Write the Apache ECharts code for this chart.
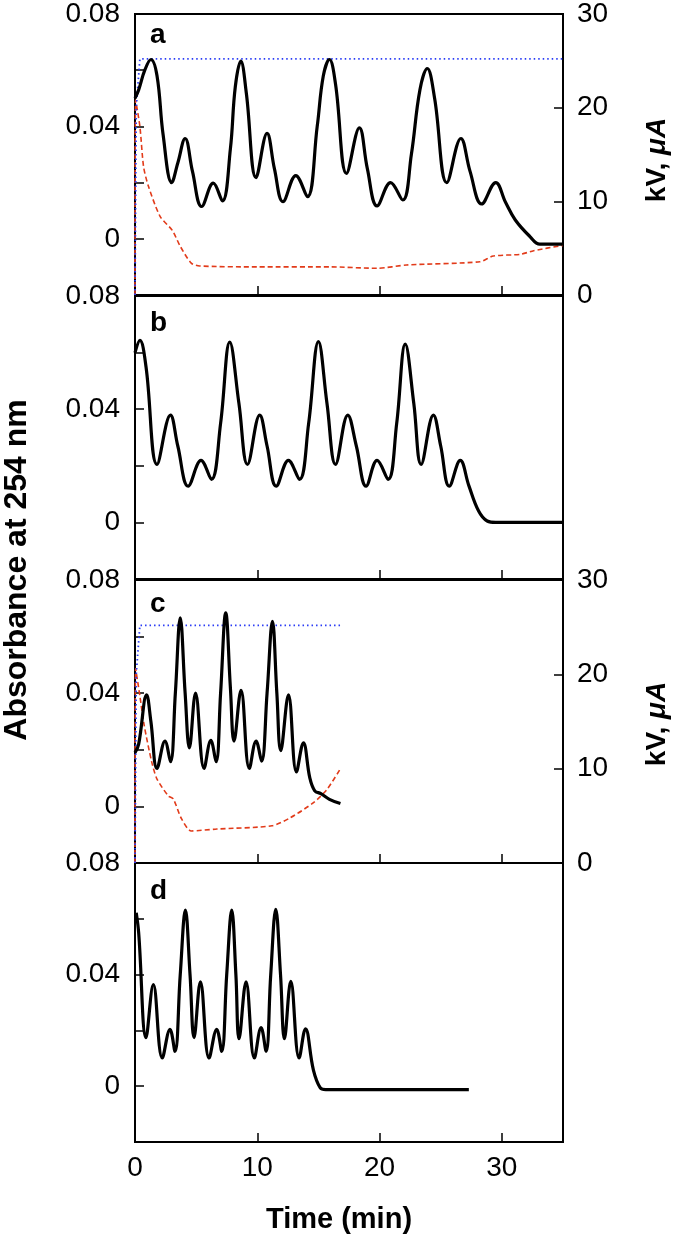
<!DOCTYPE html>
<html>
<head>
<meta charset="utf-8">
<script src="https://cdn.jsdelivr.net/npm/echarts@6/dist/echarts.min.js"></script>
<style>
html,body{margin:0;padding:0;background:#fff;}
#chart{width:675px;height:1238px;}
</style>
</head>
<body>
<div id="chart"></div>
<script>
// ---- Data (time in min, absorbance at 254 nm; kV / µA on right axis) ----
const panelLetters = ['a', 'b', 'c', 'd'];
const xTicks = [0, 10, 20, 30];
const absTickLabels = ['0', '0.04', '0.08'];
const rightTickLabels = ['0', '10', '20', '30'];

const absA = [[0,0.050],[0.3,0.053],[0.8,0.060],[1.3,0.0638],[1.8,0.058],[2.3,0.037],[3.0,0.020],[3.5,0.027],[4.1,0.0357],[4.7,0.024],[5.45,0.0115],[6.4,0.0198],[7.15,0.0135],[7.8,0.032],[8.2,0.054],[8.65,0.0632],[9.1,0.052],[9.9,0.0218],[10.8,0.0375],[11.4,0.025],[12.1,0.0132],[13.15,0.0225],[14.1,0.015],[14.9,0.040],[15.4,0.058],[15.9,0.0638],[16.4,0.055],[17.3,0.0233],[18.35,0.0395],[19.0,0.025],[19.8,0.0117],[20.9,0.020],[21.9,0.0138],[22.6,0.030],[23.3,0.053],[23.9,0.0606],[24.5,0.050],[25.5,0.020],[26.65,0.0357],[27.4,0.024],[28.35,0.0124],[29.5,0.020],[30.3,0.013],[31.1,0.0067],[32.3,0.0008],[33.1,-0.0019],[35,-0.0019]];
const currentA = [[0,0],[0.05,20.8],[0.4,18],[0.7,13.7],[1.1,11.6],[2.05,8.4],[3.05,6.9],[3.7,5.2],[4.6,3.4],[5.3,3.1],[10,3.0],[16,3.0],[19.8,2.85],[22.2,3.2],[28.2,3.55],[29.3,4.16],[31.5,4.34],[32.6,4.73],[35,5.3]];
const voltageA = [[0,0],[0.1,20],[0.4,25.2],[35,25.2]];

const absB = [[0,0.060],[0.4,0.0643],[0.9,0.055],[1.8,0.0205],[2.9,0.0379],[3.5,0.027],[4.35,0.0128],[5.4,0.0219],[6.25,0.0152],[7.0,0.035],[7.75,0.0637],[8.5,0.042],[9.2,0.0205],[10.2,0.0379],[10.8,0.027],[11.55,0.0128],[12.55,0.0219],[13.45,0.0152],[14.2,0.035],[15.0,0.0639],[15.7,0.042],[16.4,0.0205],[17.4,0.0379],[18.1,0.027],[18.9,0.0128],[19.8,0.0219],[20.7,0.0152],[21.4,0.035],[22.1,0.063],[22.8,0.042],[23.4,0.0205],[24.4,0.0379],[25.0,0.027],[25.7,0.0128],[26.6,0.0219],[27.3,0.013],[28.1,0.004],[28.8,0.0005],[29.5,0],[35,0]];

const absC = [[0,0.019],[0.3,0.022],[0.95,0.0394],[1.3,0.03],[1.8,0.0134],[2.45,0.0231],[2.9,0.0158],[3.3,0.040],[3.7,0.0666],[4.1,0.040],[4.45,0.0207],[4.95,0.040],[5.65,0.0134],[6.2,0.0233],[6.63,0.0158],[7.0,0.040],[7.42,0.0684],[7.8,0.042],[8.1,0.0231],[8.67,0.041],[9.35,0.0134],[9.9,0.0231],[10.35,0.016],[10.8,0.040],[11.24,0.0654],[11.6,0.040],[11.92,0.0197],[12.55,0.0394],[13.2,0.0122],[13.77,0.0225],[14.3,0.010],[14.7,0.0055],[15.2,0.0045],[15.9,0.0025],[16.8,0.001]];
const currentC = [[0,0],[0.05,20.6],[0.4,17.7],[0.75,14.6],[1.37,10.7],[1.8,8.9],[2.73,7.1],[3.13,6.8],[3.8,4.7],[4.6,3.4],[6.7,3.6],[11.2,3.95],[12.7,4.8],[14.6,6.4],[15.7,7.8],[16.8,10]];
const voltageC = [[0,0],[0.1,20],[0.4,25.2],[16.8,25.2]];

const absD = [[0.1,0.0622],[0.3,0.055],[0.9,0.0174],[1.5,0.0364],[2.23,0.0101],[2.86,0.0204],[3.27,0.0125],[3.7,0.040],[4.12,0.0631],[4.5,0.040],[4.83,0.0174],[5.35,0.0374],[6.06,0.0101],[6.68,0.0204],[7.09,0.0125],[7.5,0.040],[7.91,0.0631],[8.25,0.040],[8.51,0.017],[9.08,0.0374],[9.76,0.0101],[10.31,0.021],[10.72,0.0125],[11.1,0.040],[11.51,0.0634],[11.9,0.040],[12.22,0.017],[12.74,0.0376],[13.42,0.0101],[13.94,0.0206],[14.59,0.0058],[15.14,-0.0005],[15.6,-0.0012],[27.3,-0.0012]];

// ---- Layout ----
const FONT = "'Liberation Sans', Arial, Helvetica, sans-serif";
const gridBoxes = [
  {top: 14, height: 281},
  {top: 296, height: 283},
  {top: 580, height: 283},
  {top: 863, height: 279}
];
const hasRight = [true, false, true, false];
const letterY = [35, 323, 604, 891];

const grid = gridBoxes.map(b => ({left: 135, width: 428, top: b.top, height: b.height,
  show: true, borderColor: '#000', borderWidth: 2, backgroundColor: 'transparent', containLabel: false}));

const xAxis = gridBoxes.map((b, i) => ({
  type: 'value', gridIndex: i, min: 0, max: 35, interval: 10, position: 'bottom',
  axisLine: {show: true, onZero: false, lineStyle: {color: '#000', width: 2}},
  axisTick: {show: true, inside: true, length: 9, lineStyle: {color: '#000', width: 1.5}},
  axisLabel: {show: i === 3, fontSize: 28, color: '#000', fontFamily: FONT, margin: 12,
    formatter: v => xTicks.indexOf(v) >= 0 ? String(v) : ''},
  splitLine: {show: false}
}));

function near(v, t) { return Math.abs(v - t) < 1e-9; }

const yAxis = [];
gridBoxes.forEach((b, i) => {
  yAxis.push({
    type: 'value', gridIndex: i, position: 'left', min: -0.02, max: 0.08, interval: 0.02,
    axisLine: {show: true, onZero: false, lineStyle: {color: '#000', width: 2}},
    axisTick: {show: true, inside: true, length: 9, lineStyle: {color: '#000', width: 1.5}},
    axisLabel: {fontSize: 28, color: '#000', fontFamily: FONT, margin: 15,
      formatter: v => {
        for (const s of absTickLabels) { if (near(v, parseFloat(s))) return s; }
        return '';
      }},
    splitLine: {show: false}
  });
  yAxis.push({
    type: 'value', gridIndex: i, position: 'right', min: 0, max: 30, interval: 10,
    axisLine: {show: true, onZero: false, lineStyle: {color: '#000', width: 2}},
    axisTick: {show: hasRight[i], inside: true, length: 9, lineStyle: {color: '#000', width: 1.5}},
    axisLabel: {show: hasRight[i], fontSize: 28, color: '#000', fontFamily: FONT, margin: 14,
      formatter: v => rightTickLabels.indexOf(String(v)) >= 0 ? String(v) : ''},
    splitLine: {show: false}
  });
});

function absSeries(data, i) {
  return {type: 'line', xAxisIndex: i, yAxisIndex: 2 * i, data: data, smooth: 0.4,
    showSymbol: false, symbol: 'none', z: 5,
    lineStyle: {color: '#000', width: 3.2}};
}
function currentSeries(data, i) {
  return {type: 'line', xAxisIndex: i, yAxisIndex: 2 * i + 1, data: data, smooth: 0.25,
    showSymbol: false, symbol: 'none', z: 3,
    lineStyle: {color: '#e23b1a', width: 1.6, type: [5, 3]}};
}
function voltageSeries(data, i) {
  return {type: 'line', xAxisIndex: i, yAxisIndex: 2 * i + 1, data: data, smooth: false,
    showSymbol: false, symbol: 'none', z: 4,
    lineStyle: {color: '#2a3cf5', width: 1.8, type: [1.5, 3]}};
}

const series = [
  currentSeries(currentA, 0), voltageSeries(voltageA, 0), absSeries(absA, 0),
  absSeries(absB, 1),
  currentSeries(currentC, 2), voltageSeries(voltageC, 2), absSeries(absC, 2),
  absSeries(absD, 3)
];

const graphic = [];
panelLetters.forEach((l, i) => {
  graphic.push({type: 'text', x: 150, y: letterY[i], silent: true,
    style: {text: l, fill: '#000', fontSize: 28, fontWeight: 'bold', fontFamily: FONT,
      textAlign: 'left', textVerticalAlign: 'middle', align: 'left', verticalAlign: 'middle'}});
});
graphic.push({type: 'text', x: 17, y: 570, rotation: Math.PI / 2, silent: true,
  style: {text: 'Absorbance at 254 nm', fill: '#000', fontSize: 32, fontWeight: 'bold', fontFamily: FONT,
    textAlign: 'center', textVerticalAlign: 'middle', align: 'center', verticalAlign: 'middle'}});
graphic.push({type: 'text', x: 339, y: 1220, silent: true,
  style: {text: 'Time (min)', fill: '#000', fontSize: 29, fontWeight: 'bold', fontFamily: FONT,
    textAlign: 'center', textVerticalAlign: 'middle', align: 'center', verticalAlign: 'middle'}});
[160, 724].forEach(cy => {
  graphic.push({type: 'text', x: 657, y: cy, rotation: Math.PI / 2, silent: true,
    style: {text: 'kV, {i|μA}', fill: '#000', fontSize: 28, fontWeight: 'bold', fontFamily: FONT,
      textAlign: 'center', textVerticalAlign: 'middle', align: 'center', verticalAlign: 'middle',
      rich: {i: {fontStyle: 'italic', fontWeight: 'bold', fontSize: 28, fontFamily: FONT, fill: '#000'}}}});
});

const chart = echarts.init(document.getElementById('chart'), null, {renderer: 'canvas'});
chart.setOption({
  animation: false,
  backgroundColor: '#fff',
  grid, xAxis, yAxis, series, graphic
});
</script>
</body>
</html>
